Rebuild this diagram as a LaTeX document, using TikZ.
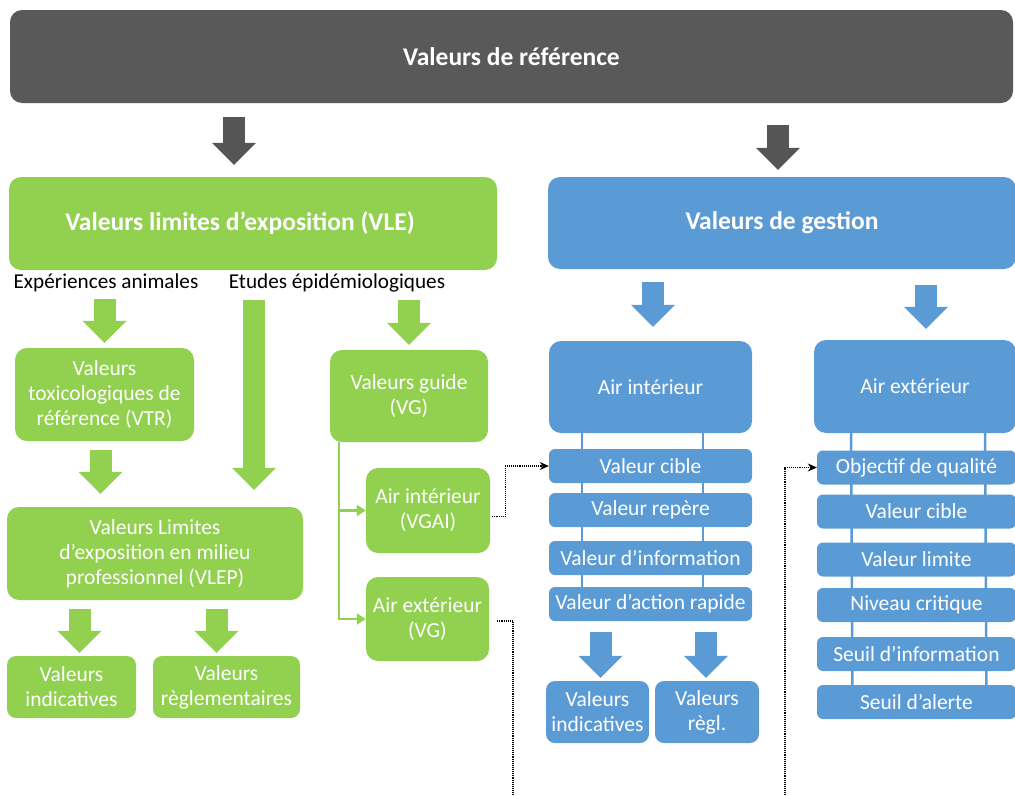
\documentclass[tikz,border=0pt]{standalone}
\usepackage{fontspec}
\setmainfont{Carlito}
\usepackage{tikz}
\usetikzlibrary{arrows.meta}
\usetikzlibrary{calc, backgrounds}
\definecolor{ref_grey}{RGB}{89,89,89}
\definecolor{vle_green}{RGB}{146,208,80}
\definecolor{gest_blue}{RGB}{91,155,213}

\begin{document}
\begin{tikzpicture}[x=1pt, y=-1pt,
    box/.style={rounded corners=12pt, inner sep=2pt, text=white, align=center, font=\fontsize{21.5}{25}\selectfont},
    title/.style={font=\fontsize{25.5}{29}\selectfont\bfseries},
    greenbox/.style={box, fill=vle_green},
    bluebox/.style={box, fill=gest_blue},
    itembox/.style={bluebox, rounded corners=6pt, minimum width=203pt, minimum height=34pt},
    lbl/.style={inner sep=0pt, font=\fontsize{21.2}{25}\selectfont},
    blockarrow/.style={line width=22pt, -{Triangle[width=44pt, length=22pt, line width=0pt]}},
    gline/.style={vle_green, line width=2.5pt, -{Triangle[width=11pt, length=9pt]}},
    bline/.style={gest_blue, line width=2.5pt},
    dotline/.style={densely dotted, line width=1.1pt, -{Stealth[width=8pt, length=9pt]}}]
  \useasboundingbox (0,0) rectangle (1015,795);

  \node[box, fill=ref_grey, title, minimum width=1003pt, minimum height=93pt] (top) at (511.5,56.5) {Valeurs de référence};
  \node[greenbox, title, minimum width=488pt, minimum height=93pt] (vle) at (253,223.5) {Valeurs limites d’exposition (VLE)\hspace*{26pt}};
  \node[bluebox, title, minimum width=468pt, minimum height=92pt] (gest) at (782,223) {Valeurs de gestion};

  % VLE side
  \node[lbl] (expe) at (106,283) {Expériences animales};
  \node[lbl] (etudes) at (337,283) {Etudes épidémiologiques};
  \node[greenbox, minimum width=179pt, minimum height=93pt] (vtr) at (104.5,394.5) {Valeurs\\toxicologiques de\\référence (VTR)};
  \node[greenbox, minimum width=158pt, minimum height=92pt] (vg) at (409,396) {Valeurs guide\\(VG)};
  \node[greenbox, minimum width=296pt, minimum height=93pt] (vlep) at (155,553.5) {Valeurs Limites\\d’exposition en milieu\\professionnel (VLEP)};
  \node[greenbox, rounded corners=9pt, minimum width=129pt, minimum height=62pt] (vind) at (71.5,687) {Valeurs\\indicatives};
  \node[greenbox, rounded corners=9pt, minimum width=147pt, minimum height=62pt] (vreg) at (226.5,687) {Valeurs\\règlementaires};
  \node[greenbox, minimum width=124pt, minimum height=85pt] (vgai) at (428,510.5) {Air intérieur\\(VGAI)};
  \node[greenbox, minimum width=123pt, minimum height=84pt] (vgae) at (427.5,619) {Air extérieur\\(VG)};

  % gestion side
  \node[bluebox, minimum width=203pt, minimum height=92pt] (ai) at (650.5,387) {Air intérieur};
  \node[bluebox, minimum width=202pt, minimum height=93pt] (ae) at (915,386.5) {Air extérieur};
  \node[itembox] (lc1) at (650.5,466) {Valeur cible};
  \node[itembox] (lc2) at (650.5,510) {Valeur repère};
  \node[itembox] (lc3) at (650.5,558) {Valeur d’information};
  \node[itembox] (lc4) at (650.5,604) {Valeur d’action rapide};
  \node[itembox, minimum width=199pt] (rc1) at (916.5,467.5) {Objectif de qualité};
  \node[itembox, minimum width=199pt] (rc2) at (916.5,511.5) {Valeur cible};
  \node[itembox, minimum width=199pt] (rc3) at (916.5,559.5) {Valeur limite};
  \node[itembox, minimum width=199pt] (rc4) at (916.5,605) {Niveau critique};
  \node[itembox, minimum width=199pt] (rc5) at (916.5,654) {Seuil d’information};
  \node[itembox, minimum width=199pt] (rc6) at (916.5,702) {Seuil d’alerte};
  \node[bluebox, rounded corners=9pt, minimum width=103pt, minimum height=62pt] (bvind) at (597.5,712) {Valeurs\\indicatives};
  \node[bluebox, rounded corners=9pt, minimum width=104pt, minimum height=62pt] (bvreg) at (707,712) {Valeurs\\règl.};

  % block arrows
  \draw[blockarrow, ref_grey!95!black] ($(top.south -| vle.north)+(-19,14)$) -- ($(vle.north)+(-19,-12)$);
  \draw[blockarrow, ref_grey!95!black] ($(top.south -| gest.north)+(-4,22)$) -- ($(gest.north)+(-4,-7)$);
  \draw[blockarrow, vle_green] ($(vle.south -| vtr.north)+(0,29)$) -- ($(vtr.north)+(0,-5)$);
  \draw[blockarrow, vle_green] ($(vle.south)+(1,30)$) -- ($(vlep.north -| vle.south)+(1,-17)$);
  \draw[blockarrow, vle_green] ($(vle.south -| vg.north)+(0,30)$) -- ($(vg.north)+(0,-5)$);
  \draw[blockarrow, vle_green] ($(vtr.south)+(-4,9)$) -- ($(vlep.north -| vtr.south)+(-4,-13)$);
  \draw[blockarrow, vle_green] ($(vlep.south -| vind.north)+(8,9)$) -- ($(vind.north)+(8,-3)$);
  \draw[blockarrow, vle_green] ($(vlep.south -| vreg.north)+(-10,9)$) -- ($(vreg.north)+(-10,-3)$);
  \draw[blockarrow, gest_blue] ($(gest.south -| ai.north)+(2.5,13)$) -- ($(ai.north)+(2.5,-14)$);
  \draw[blockarrow, gest_blue] ($(gest.south -| ae.north)+(11,16)$) -- ($(ae.north)+(11,-11)$);
  \draw[blockarrow, gest_blue] ($(lc4.south -| bvind.north)+(3,11)$) -- ($(bvind.north)+(3,-3)$);
  \draw[blockarrow, gest_blue] ($(lc4.south -| bvreg.north)+(-1,11)$) -- ($(bvreg.north)+(-1,-3)$);

  % VG branches
  \coordinate (vgroot) at ($(vg.south west)+(9,0)$);
  \draw[gline] (vgroot) |- (vgai.west);
  \draw[gline] (vgroot) |- (vgae.west);

  % rails behind the lists
  \begin{scope}[on background layer]
    \draw[bline] ($(ai.south)+(-68.5,0)$) -- ($(lc4.center)+(-68.5,0)$);
    \draw[bline] ($(ai.south)+(52.5,0)$) -- ($(lc4.center)+(52.5,0)$);
    \draw[bline] ($(ae.south)+(-64,0)$) -- ($(rc6.center)+(-64,0)$);
    \draw[bline] ($(ae.south)+(70,0)$) -- ($(rc6.center)+(70,0)$);
  \end{scope}

  % dotted links to the gestion lists
  \coordinate (dsw) at (513,810);
  \coordinate (dse) at (785,810);
  \draw[dotline] ($(vgai.east)+(2,6)$) -- ++(13,0) |- (lc1.west);
  \draw[dotline] ($(vgae.east)+(8,2)$) -| (dsw) -- (dse) |- (rc1.west); % runs below the page
\end{tikzpicture}
\end{document}
